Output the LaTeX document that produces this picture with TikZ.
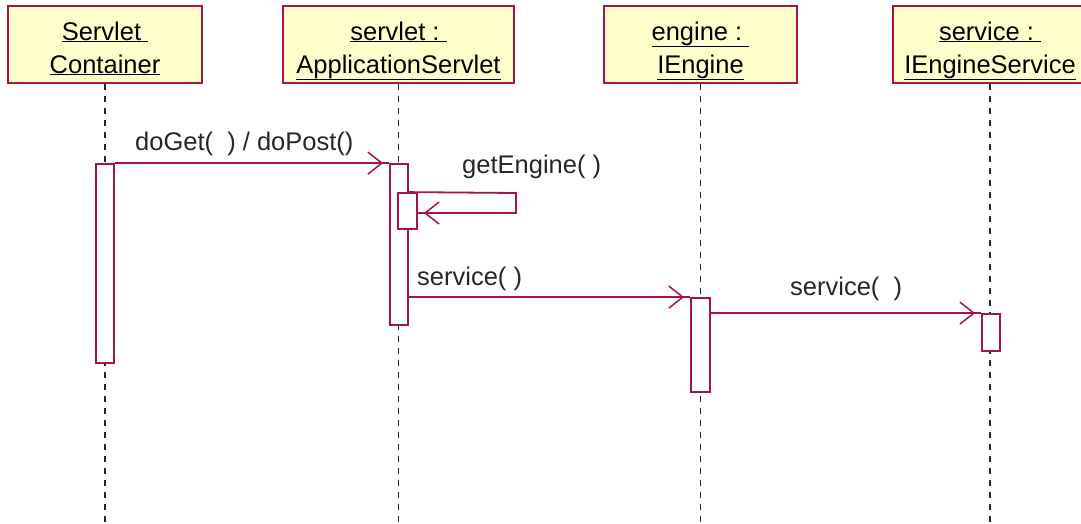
\documentclass[tikz,border=0pt]{standalone}
\usepackage{fontspec}
\setmainfont{Liberation Sans}
\usepackage{tikz}
\usetikzlibrary{arrows.meta, decorations.markings, calc}
\definecolor{umlred}{RGB}{165,20,70}
\definecolor{umlfill}{RGB}{255,255,204}

\begin{document}
\begin{tikzpicture}[
			x=1pt, y=-1pt,
			every node/.style={
					font=\fontsize{25.5}{33}\selectfont
				},
			objbox/.style={draw=umlred, fill=umlfill, line width=1.8pt, minimum height=77pt, inner sep=0pt},
			title/.style={anchor=base, inner sep=0pt},
			lifeline/.style={draw=black!85, line width=1.9pt, dash pattern=on 6pt off 6pt},
			actbar/.style={draw=umlred, fill=white, line width=1.8pt, minimum width=18pt, inner sep=0pt},
			msg/.style={
					draw=umlred, line width=1.8pt,
					postaction={decorate},
					decoration={markings, mark=at position -6pt with {\arrow{Straight Barb[length=14pt, width=22pt, line width=1.5pt]}}}
				},
			msglabel/.style={anchor=base west, inner sep=0pt, text=black!85}
		]
		\useasboundingbox (0,0) rectangle (1081,523);
		\clip (0,0) rectangle (1081,523);
		\coordinate (bottom) at (0,523);

		% object boxes
		\node[objbox, minimum width=194pt] (cont) at (105,44.5) {};
		\node[objbox, minimum width=231pt] (serv) at (398.5,44.5) {};
		\node[objbox, minimum width=193pt] (eng) at (700.5,44.5) {};
		\node[objbox, minimum width=194pt] (esrv) at (990,44.5) {};

		\node[title] (cont1) at (105,40) {\underline{Servlet\ }};
		\node[title] (cont2) at (105,73) {\underline{Container}};
		\node[title] (serv1) at (398.5,40) {\underline{servlet :\ }};
		\node[title] (serv2) at (398.5,73) {\underline{ApplicationServlet}};
		\node[title] (eng1) at (700.5,40) {\underline{engine :\ }};
		\node[title] (eng2) at (700.5,73) {\underline{IEngine}};
		\node[title] (esrv1) at (990,40) {\underline{service :\ }};
		\node[title] (esrv2) at (990,73) {\underline{IEngineService}};

		% lifelines
		\draw[lifeline] (cont.south) -- (cont.south |- bottom);
		\draw[lifeline] (serv.south) -- (serv.south |- bottom);
		\draw[lifeline] (eng.south) -- (eng.south |- bottom);
		\draw[lifeline] (esrv.south) -- (esrv.south |- bottom);

		% activation bars
		\node[actbar, minimum height=199pt] (act1) at (105,263.5) {};
		\node[actbar, minimum height=161pt] (act2) at (399,244.5) {};
		\node[actbar, minimum width=19pt, minimum height=36pt] (act3) at (407.5,211) {};
		\node[actbar, minimum width=19pt, minimum height=94pt] (act4) at (700.5,345) {};
		\node[actbar, minimum height=37pt] (act5) at (991,332.5) {};

		% messages
		\coordinate (loop) at (516,193);
		\draw[msg] (act1.north east) -- (act2.north west);
		\draw[msg] (act2.east |- act3.north) -- (loop) |- ([yshift=-2pt]act3.east);
		\draw[msg] (act2.east |- act4.north) -- (act4.north west);
		\draw[msg] (act4.east |- act5.north) -- (act5.north west);

		\node[msglabel] (doget) at (135,150) {doGet(\ \ ) / doPost()};
		\node[msglabel] (getengine) at (462,173) {getEngine( )};
		\node[msglabel] (service1) at (417,285) {service( )};
		\node[msglabel] (service2) at (790,295) {service(\ \ )};
	\end{tikzpicture}
\end{document}
